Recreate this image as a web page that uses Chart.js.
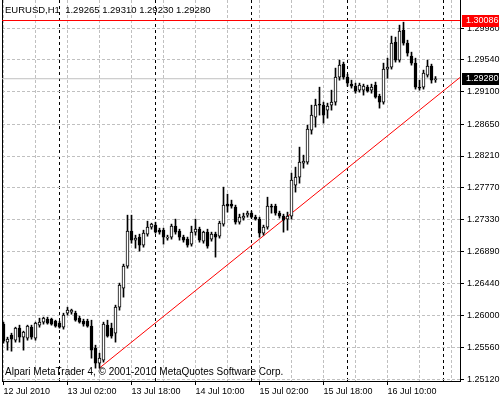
<!DOCTYPE html>
<html>
<head>
<meta charset="utf-8">
<script src="https://cdn.jsdelivr.net/npm/chart.js@4.4.0/dist/chart.umd.min.js"></script>
<style>
  html, body { margin: 0; padding: 0; background: #fff; }
  #wrap { width: 500px; height: 400px; }
</style>
</head>
<body>
<div id="wrap"><canvas id="chart" width="500" height="400"></canvas></div>
<script>
"use strict";

const FONT = "'Liberation Sans', Arial, sans-serif";
const GRID = "#c0c0c0";

// EURUSD H1, one bar per hour from 12 Jul 2010 10:00
const open = [
  1.25882, 1.25633, 1.25730, 1.25660, 1.25827, 1.25702, 1.25688, 1.25840, 1.25688, 1.25868,
  1.25910, 1.25951, 1.25951, 1.25923, 1.25896, 1.25840, 1.26034, 1.26048, 1.26034, 1.25965,
  1.25923, 1.25923, 1.25854, 1.25550, 1.25342, 1.25383, 1.25868, 1.25827, 1.25757, 1.26117,
  1.26380, 1.26685, 1.27170, 1.27045, 1.27087, 1.26976, 1.27128, 1.27225, 1.27253, 1.27183,
  1.27183, 1.27073, 1.27087, 1.27239, 1.27170, 1.27087, 1.27059, 1.26990, 1.27156, 1.27197,
  1.27031, 1.27156, 1.27059, 1.27128, 1.27100, 1.27267, 1.27543, 1.27543, 1.27502, 1.27294,
  1.27350, 1.27391, 1.27419, 1.27363, 1.27336, 1.27142, 1.27225, 1.27516, 1.27516, 1.27419,
  1.27377, 1.27336, 1.27377, 1.27807, 1.27917, 1.28111, 1.28125, 1.28568, 1.28748, 1.28928,
  1.28914, 1.28845, 1.28914, 1.28956, 1.29302, 1.29482, 1.29302, 1.29205, 1.29177, 1.29122,
  1.29122, 1.29163, 1.29122, 1.29191, 1.29039, 1.28956, 1.29413, 1.29440, 1.29787, 1.29537,
  1.29953, 1.29773, 1.29593, 1.29496, 1.29163, 1.29163, 1.29330, 1.29454, 1.29265,
];
const high = [
  1.25910, 1.25702, 1.25757, 1.25840, 1.25868, 1.25785, 1.25868, 1.25868, 1.25910, 1.25965,
  1.25979, 1.25979, 1.25965, 1.25937, 1.25923, 1.26034, 1.26117, 1.26090, 1.26062, 1.25993,
  1.25951, 1.25951, 1.25937, 1.25591, 1.25480, 1.25910, 1.25937, 1.25896, 1.26145, 1.26450,
  1.26713, 1.27391, 1.27391, 1.27114, 1.27128, 1.27183, 1.27308, 1.27280, 1.27294, 1.27211,
  1.27211, 1.27114, 1.27267, 1.27336, 1.27197, 1.27114, 1.27087, 1.27239, 1.27336, 1.27225,
  1.27170, 1.27197, 1.27156, 1.27156, 1.27308, 1.27779, 1.27682, 1.27599, 1.27530, 1.27405,
  1.27419, 1.27447, 1.27447, 1.27391, 1.27363, 1.27253, 1.27640, 1.27543, 1.27543, 1.27447,
  1.27405, 1.27433, 1.27973, 1.28056, 1.28333, 1.28222, 1.28637, 1.28914, 1.28997, 1.29163,
  1.28956, 1.28942, 1.29122, 1.29427, 1.29537, 1.29510, 1.29343, 1.29260, 1.29219, 1.29219,
  1.29205, 1.29191, 1.29205, 1.29233, 1.29066, 1.29496, 1.29565, 1.29870, 1.29856, 1.30022,
  1.30063, 1.29814, 1.29648, 1.29565, 1.29260, 1.29399, 1.29537, 1.29482, 1.29310,
];
const low = [
  1.25619, 1.25522, 1.25508, 1.25633, 1.25633, 1.25522, 1.25660, 1.25674, 1.25660, 1.25840,
  1.25882, 1.25882, 1.25868, 1.25840, 1.25827, 1.25813, 1.26007, 1.26020, 1.25923, 1.25896,
  1.25854, 1.25840, 1.25411, 1.25273, 1.25273, 1.25356, 1.25702, 1.25688, 1.25633, 1.26076,
  1.26256, 1.26657, 1.27003, 1.26934, 1.26893, 1.26948, 1.27100, 1.27197, 1.27142, 1.27128,
  1.26990, 1.27045, 1.27059, 1.27128, 1.27045, 1.27017, 1.26948, 1.26962, 1.27114, 1.27017,
  1.27003, 1.26934, 1.27031, 1.26810, 1.27073, 1.27239, 1.27433, 1.27488, 1.27267, 1.27267,
  1.27322, 1.27363, 1.27350, 1.27322, 1.27087, 1.27114, 1.27197, 1.27419, 1.27391, 1.27350,
  1.27156, 1.27183, 1.27336, 1.27710, 1.27834, 1.28042, 1.28097, 1.28513, 1.28610, 1.28776,
  1.28665, 1.28734, 1.28845, 1.28914, 1.29260, 1.29274, 1.29177, 1.29150, 1.29080, 1.29094,
  1.29053, 1.29094, 1.29080, 1.29011, 1.28873, 1.28928, 1.29288, 1.29413, 1.29510, 1.29510,
  1.29745, 1.29593, 1.29468, 1.29136, 1.29122, 1.29136, 1.29302, 1.29219, 1.29230,
];
const close = [
  1.25647, 1.25674, 1.25674, 1.25827, 1.25702, 1.25771, 1.25854, 1.25702, 1.25896, 1.25910,
  1.25965, 1.25896, 1.25882, 1.25854, 1.25840, 1.26007, 1.26076, 1.26076, 1.25937, 1.25910,
  1.25882, 1.25854, 1.25522, 1.25342, 1.25411, 1.25882, 1.25716, 1.25716, 1.26117, 1.26422,
  1.26685, 1.27170, 1.27045, 1.27073, 1.26976, 1.27142, 1.27225, 1.27267, 1.27156, 1.27156,
  1.27087, 1.27087, 1.27239, 1.27156, 1.27087, 1.27045, 1.26976, 1.27156, 1.27197, 1.27045,
  1.27156, 1.26962, 1.27128, 1.27087, 1.27280, 1.27530, 1.27516, 1.27516, 1.27294, 1.27363,
  1.27377, 1.27419, 1.27363, 1.27336, 1.27142, 1.27225, 1.27516, 1.27502, 1.27419, 1.27377,
  1.27322, 1.27377, 1.27876, 1.27917, 1.28125, 1.28139, 1.28582, 1.28776, 1.28914, 1.28914,
  1.28776, 1.28900, 1.28956, 1.29302, 1.29468, 1.29302, 1.29219, 1.29177, 1.29108, 1.29191,
  1.29177, 1.29108, 1.29163, 1.29025, 1.28956, 1.29413, 1.29440, 1.29773, 1.29537, 1.29939,
  1.29773, 1.29634, 1.29496, 1.29163, 1.29150, 1.29357, 1.29454, 1.29260, 1.29280,
];

// time axis (bar index): labels every 16 bars, grid every 8, day separators at 00:00
const tickIdx = [0, 16, 32, 48, 64, 80, 96];
const tickLabels = ["12 Jul 2010", "13 Jul 02:00", "13 Jul 18:00", "14 Jul 10:00",
                    "15 Jul 02:00", "15 Jul 18:00", "16 Jul 10:00"];
const gridIdx = [0, 8, 16, 24, 32, 40, 48, 56, 64, 72, 80, 88, 96, 104, 112];
const sepIdx = [14, 38, 62, 86, 110];
const priceTicks = [1.25120, 1.25560, 1.26000, 1.26440, 1.26890, 1.27330,
                    1.27770, 1.28210, 1.28650, 1.29100, 1.29540, 1.29980];

// objects on the chart
const levelPrice = 1.30086;
const bidPrice = 1.29280;
const trendX = [24, 114.1];
const trendY = [1.25275, 1.29297];

const header = "EURUSD,H1  1.29265 1.29310 1.29230 1.29280";
const footer = "Alpari MetaTrader 4, \u00a9 2001-2010 MetaQuotes Software Corp.";

const X_MIN = -0.375, X_MAX = 114.125;
const Y_MIN = 1.25095, Y_MAX = 1.30370;

const bodies = open.map((o, i) => ({ x: i, y: [o, close[i]] }));
const wicks = low.map((l, i) => ({ x: i, y: [l, high[i]] }));
const isUp = (i) => close[i] >= open[i];

Chart.defaults.font.family = FONT;
Chart.defaults.font.size = 9;
Chart.defaults.color = "#000";

const fixTicks = (vals) => (s) => { s.ticks = vals.map((v) => ({ value: v })); };
const flat = (s) => { s.height = 0; s.paddingLeft = 0; s.paddingRight = 0; };
const xBase = { type: "linear", min: X_MIN, max: X_MAX, offset: false };

// text overlays + price tags on the right scale
const overlay = {
  id: "overlay",
  afterDraw(chart) {
    const { ctx, chartArea: a, scales: { y } } = chart;
    ctx.save();
    ctx.textBaseline = "middle";
    ctx.fillStyle = "#000";
    ctx.font = "9.5px " + FONT;
    ctx.fillText(header, 5, 10);
    ctx.font = "10px " + FONT;
    ctx.fillText(footer, 5, 372);
    ctx.font = "9px " + FONT;
    [[levelPrice, "#ff0000"], [bidPrice, "#000000"]].forEach(([p, col]) => {
      const py = Math.round(y.getPixelForValue(p));
      ctx.fillStyle = col;
      ctx.fillRect(a.right + 2, py - 6, 37, 12);
      ctx.fillStyle = "#fff";
      ctx.fillText(p.toFixed(5), a.right + 6, py);
    });
    ctx.restore();
  },
};

new Chart(document.getElementById("chart"), {
  type: "bar",
  data: {
    datasets: [
      { label: "body", data: bodies, order: 0, grouped: false, barThickness: 3, minBarLength: 1,
        backgroundColor: (c) => (isUp(c.dataIndex) ? "#ffffff" : "#000000"),
        borderColor: "#000", borderWidth: 1, borderSkipped: false,
        xAxisID: "x", yAxisID: "y" },
      { label: "wick", data: wicks, order: 1, grouped: false, barThickness: 1,
        backgroundColor: "#000", borderWidth: 0, xAxisID: "x", yAxisID: "y" },
      { type: "line", label: "level", order: 2, xAxisID: "x", yAxisID: "y",
        data: [{ x: X_MIN, y: levelPrice }, { x: X_MAX, y: levelPrice }],
        borderColor: "#ff0000", borderWidth: 1, pointRadius: 0 },
      { type: "line", label: "trend", order: 2, xAxisID: "x", yAxisID: "y",
        data: trendX.map((x, i) => ({ x, y: trendY[i] })),
        borderColor: "#ff0000", borderWidth: 1, pointRadius: 0 },
      { type: "line", label: "bid", order: 3, xAxisID: "x", yAxisID: "y",
        data: [{ x: X_MIN, y: bidPrice }, { x: X_MAX, y: bidPrice }],
        borderColor: GRID, borderWidth: 1, pointRadius: 0 },
    ],
  },
  options: {
    responsive: false,
    animation: false,
    events: [],
    layout: { padding: 0 },
    plugins: { legend: { display: false }, tooltip: { enabled: false } },
    scales: {
      x: { ...xBase, position: "bottom",
           afterBuildTicks: fixTicks(tickIdx),
           afterFit: (s) => { s.height = 19; s.paddingLeft = 0; s.paddingRight = 0; },
           grid: { offset: false, drawOnChartArea: false, color: "#000", tickColor: "#000", tickLength: 4 },
           border: { color: "#000" },
           ticks: { autoSkip: false, maxRotation: 0, align: "start", padding: 1,
                    callback: (v) => tickLabels[tickIdx.indexOf(v)] } },
      xg: { ...xBase, position: "bottom",
            afterBuildTicks: fixTicks(gridIdx), afterFit: flat,
            grid: { offset: false, color: GRID, drawTicks: false },
            border: { display: false, dash: [3, 2] },
            ticks: { display: false } },
      xs: { ...xBase, position: "bottom",
            afterBuildTicks: fixTicks(sepIdx), afterFit: flat,
            grid: { offset: false, color: "#000", drawTicks: false },
            border: { display: false, dash: [3, 3] },
            ticks: { display: false } },
      y: { type: "linear", position: "right", min: Y_MIN, max: Y_MAX,
           afterBuildTicks: fixTicks(priceTicks),
           afterFit: (s) => { s.width = 40; s.paddingTop = 0; s.paddingBottom = 0; },
           grid: { color: GRID, tickColor: "#000", tickLength: 4 },
           border: { color: "#000", dash: [3, 2] },
           ticks: { padding: 3, callback: (v) => v.toFixed(5) } },
      yl: { type: "linear", position: "left",
            afterFit: (s) => { s.width = 2; s.paddingTop = 0; s.paddingBottom = 0; },
            grid: { display: false }, ticks: { display: false },
            border: { color: "#000" } },
    },
  },
  plugins: [overlay],
});
</script>
</body>
</html>
